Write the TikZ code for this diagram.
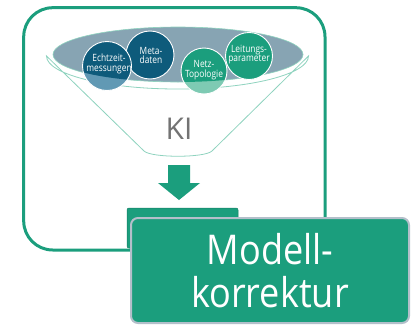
\documentclass[tikz,border=0pt]{standalone}
\usepackage{fontspec}
\setmainfont{Open Sans}
\newfontfamily\bigfont[FakeStretch=0.88]{Open Sans}
\newfontfamily\smallfont[FakeStretch=0.84]{Open Sans}
\definecolor{kgreen}{HTML}{1B9E7D}
\definecolor{kblue}{HTML}{0E5B7B}
\definecolor{kgray}{HTML}{87A4B3}
\definecolor{klightblue}{HTML}{6199B4}
\definecolor{klightgreen}{HTML}{7ECAB3}
\definecolor{kfunnel}{HTML}{8FD3BF}
\definecolor{kedge}{HTML}{B3BFCA}
\tikzset{
  bubble/.style={circle, draw=white, line width=0.9pt, minimum size=#1,
    inner sep=0pt},
  bubbletext/.style={text=white, font=\smallfont\fontsize{10}{9.8}\selectfont,
    align=center, inner sep=0pt},
  darkpart/.style={path picture={\fill[#1] (ec) ellipse [x radius=125, y radius=27.5];}},
  frame/.style={draw=kgreen, line width=3pt, rounded corners=29pt},
  result/.style={draw=kedge, line width=2pt, fill=kgreen, rounded corners=7pt}
}
\begin{document}
\begin{tikzpicture}[x=1pt,y=-1pt]
\useasboundingbox (0,0) rectangle (413,327);

% outer frame
\draw[frame] (23.7,7.7) rectangle (325,250);

% funnel body
\coordinate (ec) at (178,54.5);
\draw[kfunnel, fill=white, line width=0.8pt]
  (46.5,56) arc [start angle=180, end angle=0, x radius=131, y radius=33]
  -- (212,151) .. controls (205,158) and (151,158) .. (144,151) -- cycle;
\draw[kfunnel, fill=kgray, line width=0.6pt] (ec) ellipse [x radius=125, y radius=27.5];

% data bubbles
\node[bubble=48pt, fill=kblue] (meta) at (150,55) {};
\node[bubbletext] (metat) at (151,55.5) {Meta-\\daten};
\node[bubble=49pt, fill=klightblue, darkpart=kblue] (echt) at (107,66) {};
\node[bubbletext] (echtt) at (109,64) {Echtzeit-\\messungen};
\node[bubble=47pt, fill=kgreen] (leit) at (249,56) {};
\node[bubbletext] (leitt) at (249,54.5) {Leitungs-\\parameter};
\node[bubble=46pt, fill=klightgreen, darkpart=kgreen] (netz) at (204,71) {};
\node[bubbletext] (netzt) at (204,70.5) {Netz-\\Topologie};

% KI label
\node[text=black!55, font=\fontsize{30}{30}\selectfont] (ki) at (179,129) {KI};

% arrow
\fill[kgreen] (168,165) -- (190,165) -- (190,183) -- (200,183) -- (179,200)
  -- (158,183) -- (168,183) -- cycle;

% result boxes
\draw[kgreen!80!black, fill=kgreen, rounded corners=2pt, line width=0.5pt] (127,208) rectangle (238,248);
\node[result, minimum width=278pt, minimum height=105pt, text=white,
  font=\bigfont\fontsize{41}{43}\selectfont, align=center] (mk) at (270,270.5)
  {Modell-\\korrektur};
\end{tikzpicture}
\end{document}
